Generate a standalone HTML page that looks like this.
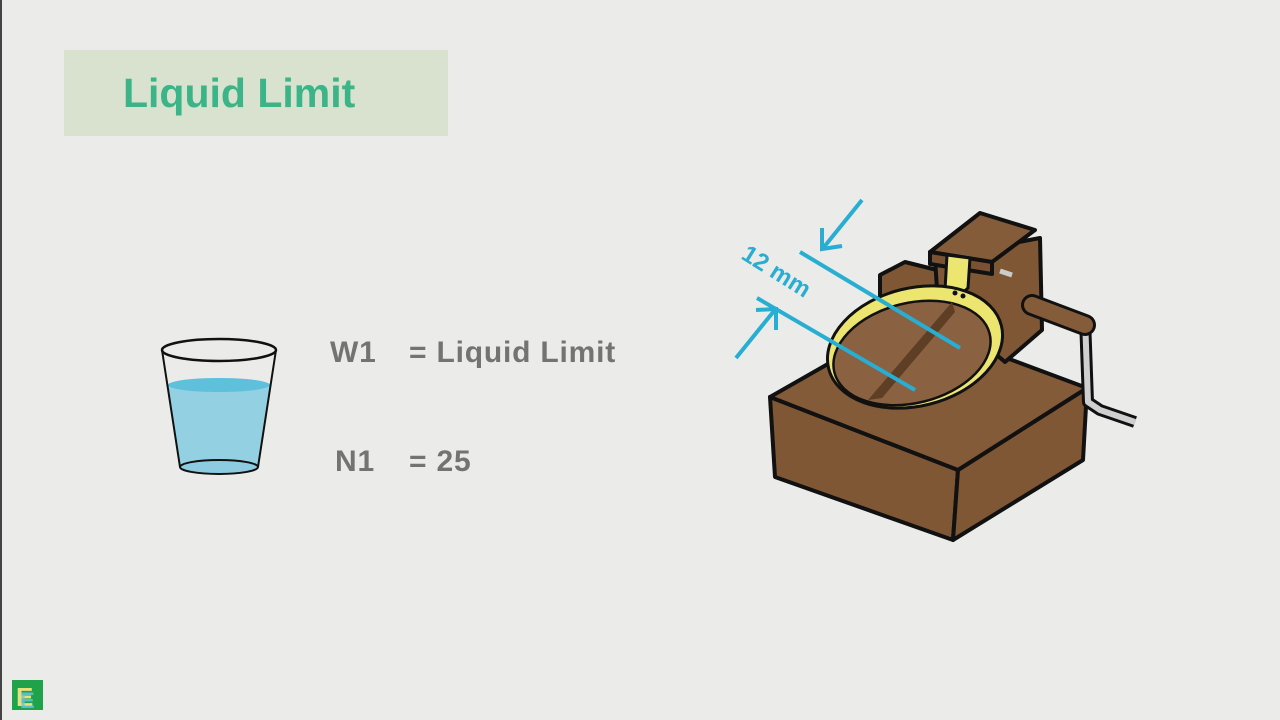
<!DOCTYPE html>
<html><head><meta charset="utf-8"><style>
html,body{margin:0;padding:0;}
body{width:1280px;height:720px;background:#ebebe9;position:relative;overflow:hidden;font-family:"Liberation Sans",sans-serif;}
.title{position:absolute;left:64px;top:50px;width:384px;height:86px;background:#d9e2cf;}
.title span{position:absolute;left:59px;top:20px;font-size:41px;font-weight:bold;color:#3bb487;}
.t{position:absolute;font-size:30px;font-weight:bold;color:#737373;letter-spacing:0.8px;}
</style></head><body>
<div style="position:absolute;left:0;top:0;width:2px;height:720px;background:#444"></div>
<div class="title"><span>Liquid Limit</span></div>
<div class="t" style="left:330px;top:336px">W1</div>
<div class="t" style="left:409px;top:336px">= Liquid Limit</div>
<div class="t" style="left:335px;top:445px">N1</div>
<div class="t" style="left:409px;top:445px">= 25</div>
<svg width="1280" height="720" style="position:absolute;left:0;top:0">
<!-- glass -->
<path d="M167,385 Q219,378 270,385 L258,467 Q219,474 180,467 Z" fill="#93d0e2"/>
<ellipse cx="219" cy="385" rx="51" ry="7" fill="#5fc0dc"/>
<ellipse cx="219" cy="467" rx="39" ry="7" fill="#8ccbe0" stroke="#111" stroke-width="2"/>
<path d="M162,350 L180,467 M276,350 L258,467" stroke="#111" stroke-width="2" fill="none"/>
<ellipse cx="219" cy="350" rx="57" ry="11" fill="none" stroke="#111" stroke-width="2.5"/>
<!-- machine -->
<g stroke="#111" stroke-width="4" stroke-linejoin="round">
<polygon points="770,397 958,470 953,540 775,477" fill="#7f5735"/>
<polygon points="958,470 1087,388 1083,460 953,540" fill="#7f5735"/>
<polygon points="770,397 905,320 1087,388 958,470" fill="#845b38"/>
<polygon points="880,275 905,262 945,272 945,305 880,300" fill="#7f5735"/>
<polygon points="935,258 1040,238 1042,330 1005,362 938,305" fill="#7f5735"/>
<polygon points="930,252 980,213 1035,230 992,262" fill="#855c39"/>
<polygon points="930,252 992,262 992,274 930,264" fill="#7a5233"/>
<line x1="1000" y1="271" x2="1012" y2="275" stroke="#ccc" stroke-width="5"/>
<path d="M1085,318 L1088,402 L1100,410 L1135,422" fill="none" stroke="#111" stroke-width="12"/>
<path d="M1085,318 L1088,402 L1100,410 L1135,422" fill="none" stroke="#cfcfcf" stroke-width="6" stroke-linejoin="round"/>
<path d="M1032,305 L1085,325" stroke="#111" stroke-width="22" stroke-linecap="round"/>
<path d="M1032,305 L1085,325" stroke="#855c39" stroke-width="16" stroke-linecap="round"/>
<polygon points="947,255 970,258 968,288 955,300 945,290" fill="#ece670" stroke-width="3"/>
<ellipse cx="915" cy="347" rx="89" ry="59" transform="rotate(-14 915 347)" fill="#ece670" stroke-width="3"/>
<ellipse cx="912" cy="353" rx="80" ry="50" transform="rotate(-14 912 353)" fill="#8a6141" stroke-width="2.5"/>
</g>
<path d="M952,302 L868,400 L882,398 L955,312 Z" fill="#5e3e25"/>
<circle cx="955" cy="293" r="2.5" fill="#111"/><circle cx="963" cy="296" r="2.5" fill="#111"/>
<!-- dimension -->
<g stroke="#27aed2" stroke-width="4" fill="none">
<line x1="800" y1="252" x2="960" y2="348"/>
<line x1="757" y1="298" x2="915" y2="390"/>
<line x1="862" y1="200" x2="824" y2="247"/>
<polyline points="822,228 822,249 842,246"/>
<line x1="736" y1="358" x2="774" y2="311"/>
<polyline points="756,310 776,309 776,330"/>
</g>
<text x="740" y="258" transform="rotate(32 740 258)" font-family="Liberation Sans" font-size="24" font-weight="bold" fill="#27aed2">12 mm</text>
<!-- logo -->
<rect x="12" y="680" width="31" height="30" fill="#1fa24a"/>
<text x="16" y="706" font-family="Liberation Sans" font-size="26" font-weight="bold" fill="#e8e07a">E</text>
<text x="20" y="708" font-family="Liberation Sans" font-size="22" font-weight="bold" fill="#6cc3e8" opacity="0.8">E</text>
</svg>
</body></html>
